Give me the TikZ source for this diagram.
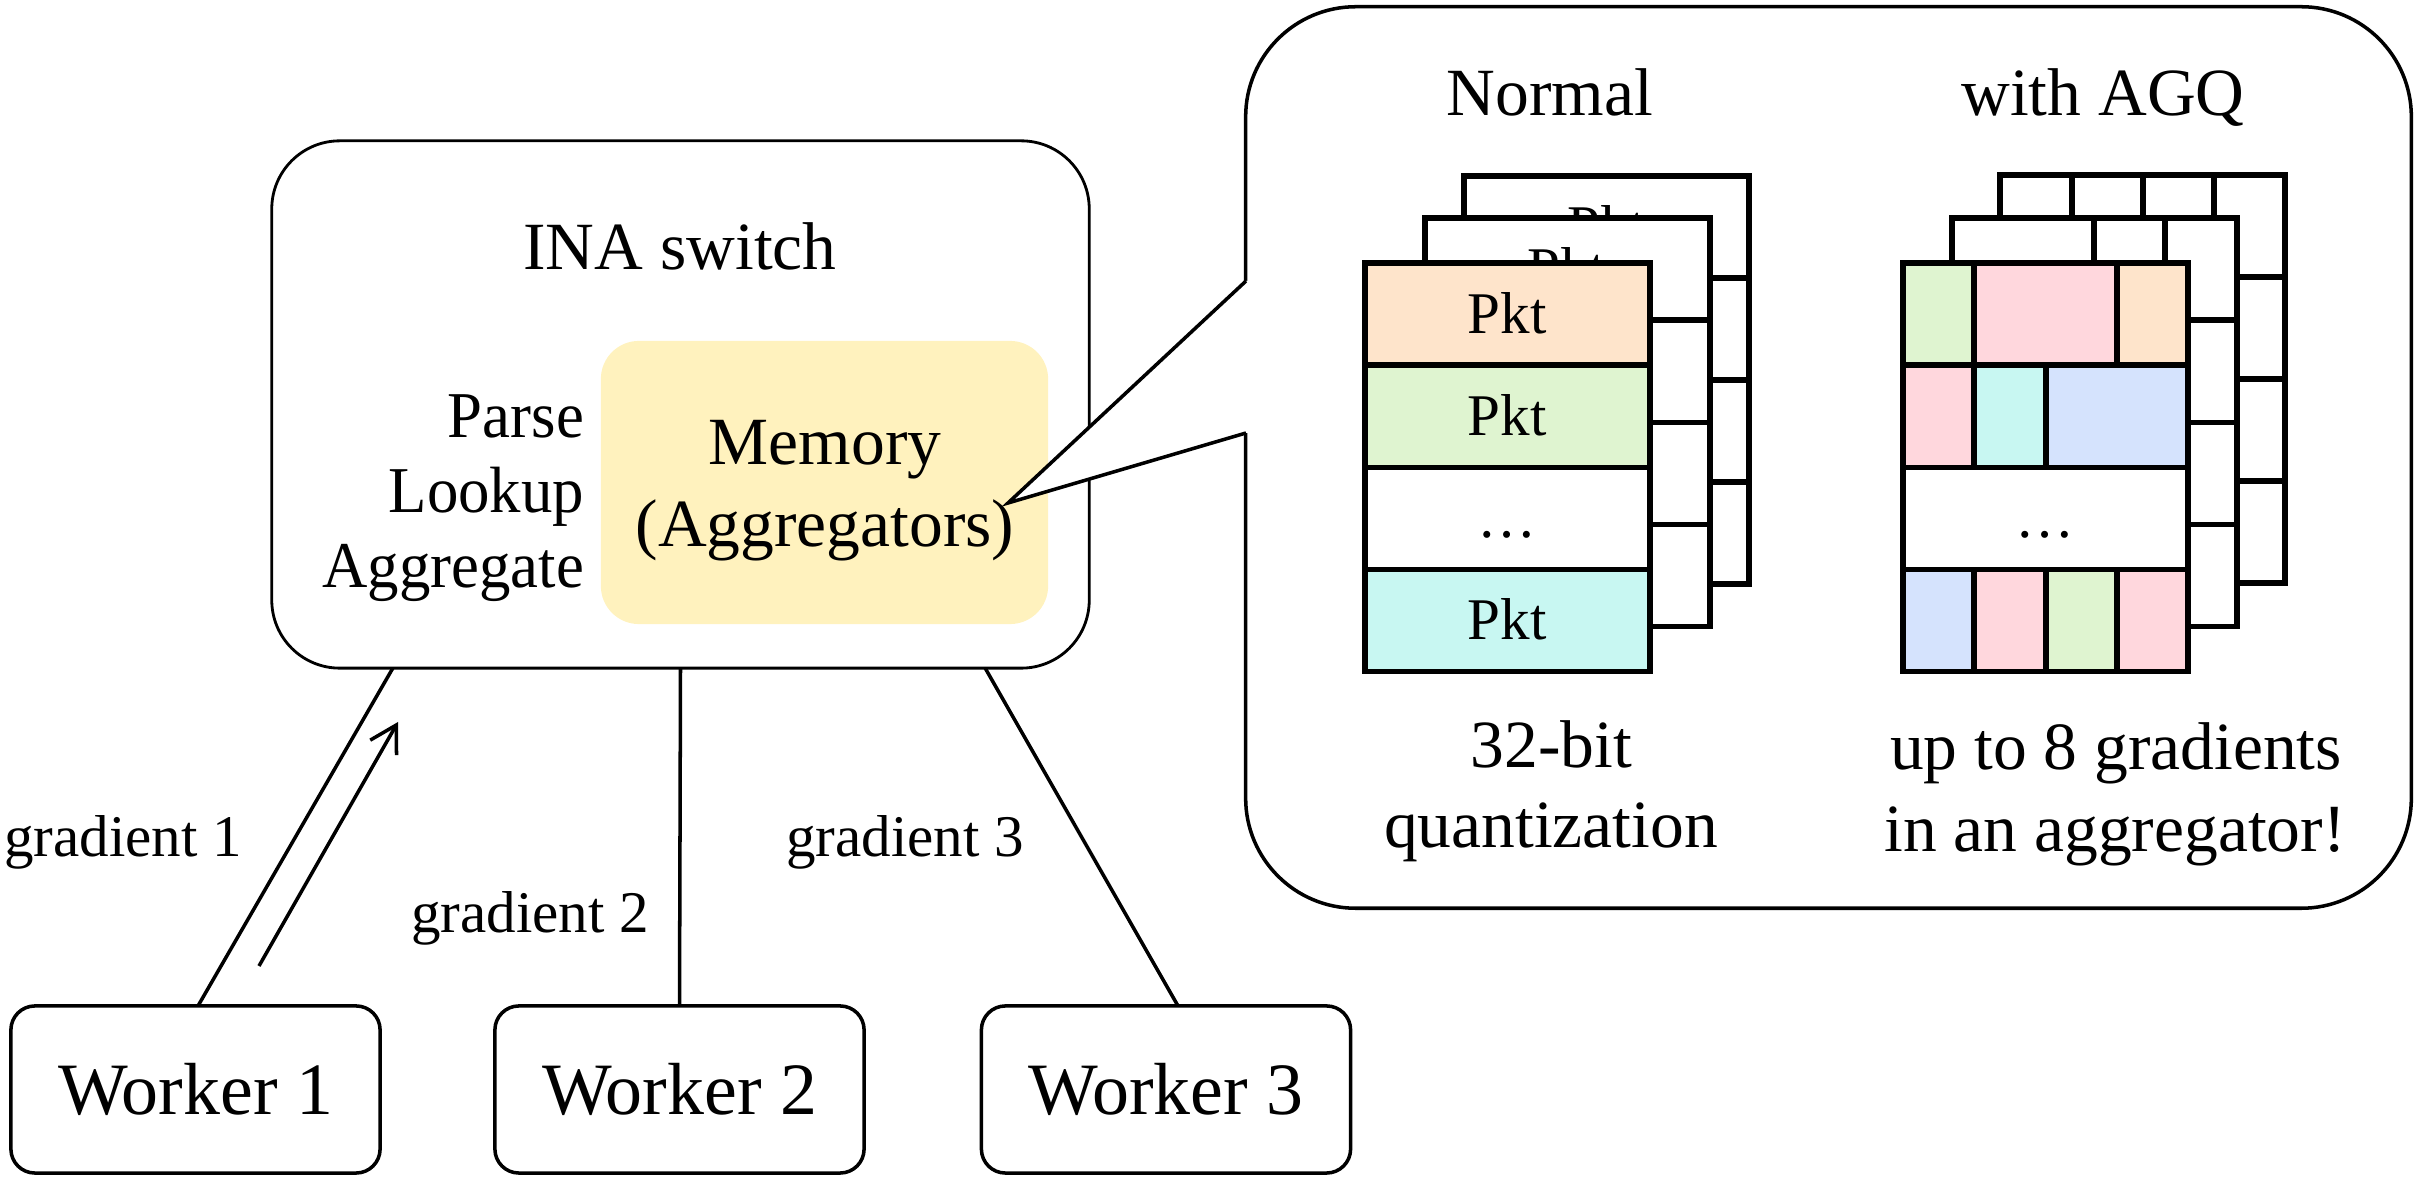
\documentclass[tikz,border=0pt]{standalone}
\usepackage{fontspec}
\setmainfont{Liberation Serif}
\newfontfamily\narrowserif[FakeStretch=0.96]{Liberation Serif}
\usetikzlibrary{arrows.meta}
\definecolor{cpeach}{HTML}{FEE4CB}
\definecolor{cgreen}{HTML}{DFF4D0}
\definecolor{cpink}{HTML}{FFD7DD}
\definecolor{ccyan}{HTML}{C8F7F2}
\definecolor{cblue}{HTML}{D5E3FD}
\definecolor{cyellow}{HTML}{FFF2BE}
\begin{document}
\begin{tikzpicture}[x=0.01cm,y=-0.01cm,
  txt/.style={inner sep=0pt, outer sep=0pt, anchor=base, font=\fontsize{19.2pt}{23pt}\selectfont},
  steptxt/.style={inner sep=0pt, outer sep=0pt, anchor=base east, font=\narrowserif\fontsize{18.6pt}{22pt}\selectfont},
  small/.style={txt, font=\fontsize{16.8pt}{20pt}\selectfont},
  box/.style={draw, line width=0.8pt, inner sep=0pt, outer sep=0pt},
  wbox/.style={draw, line width=1pt, inner sep=0pt, outer sep=0pt, rounded corners=0.24cm,
     minimum width=3.69cm, minimum height=1.67cm, font=\fontsize{21pt}{25pt}\selectfont},
  conn/.style={line width=1pt},
  card/.style={line width=1.7pt},
]
\useasboundingbox (0,0) rectangle (2417,1180);

% ---------------- INA switch ----------------
\node[box, rounded corners=0.68cm, minimum width=8.17cm, minimum height=5.27cm] (sw) at (680.5,404.5) {};
\node[fill=cyellow, inner sep=0pt, outer sep=0pt, rounded corners=0.38cm, minimum width=4.47cm, minimum height=2.83cm] (mem) at (824.5,482.5) {};

% ---------------- callout ----------------
\node[draw, fill=white, line width=1pt, inner sep=0pt, outer sep=0pt, rounded corners=1.1cm,
      minimum width=11.65cm, minimum height=9.01cm] (callout) at (1828.5,457.5) {};
\coordinate (pa) at (1246,281);
\coordinate (pb) at (1246,433);
\coordinate (tip) at (1008,503);
\fill[white] (pa) -- (tip) -- (pb) -- (1248.5,433) -- (1248.5,281) -- cycle;
\draw[line width=1pt, line join=miter] (pa) -- (tip) -- (pb);

% texts in switch
\node[txt] (ina) at (680,270) {INA switch};
\node[steptxt] (parse) at (584,438) {Parse};
\node[steptxt] (lookup) at (584,513) {Lookup};
\node[steptxt] (aggr) at (584,588) {Aggregate};
\node[txt] (memt) at (825,464.6) {Memory};
\node[txt] (aggs) at (825,547) {(Aggregators)};

% ---------------- workers ----------------
\node[wbox] (w1) at (195.5,1089.5) {Worker 1};
\node[wbox] (w2) at (679.5,1089.5) {Worker 2};
\node[wbox] (w3) at (1166,1089.5) {Worker 3};

\coordinate (s1) at ([xshift=-2.875cm]sw.south);
\coordinate (s3) at ([xshift=3.045cm]sw.south);
\draw[conn] ([xshift=0.025cm]w1.north) -- (s1);
\draw[conn] (w2.north) -- (sw.south);
\draw[conn] (s3) -- ([xshift=0.12cm]w3.north);

\coordinate (atail) at (259,966);
\coordinate (ahead) at (398,722);
\draw[conn, -{Straight Barb[length=7.4pt,width=8.6pt]}] (atail) -- (ahead);

\node[small] (g1) at (123,857) {gradient 1};
\node[small] (g2) at (530,933) {gradient 2};
\node[small] (g3) at (905,857) {gradient 3};

% ---------------- callout texts ----------------
\node[txt] (normal) at (1550,115.6) {Normal};
\node[txt] (agq) at (2103,115.6) {with AGQ};
\node[txt] (q1) at (1551.5,767.5) {32-bit};
\node[txt] (q2) at (1551,848) {quantization};
\node[txt] (u1) at (2116,770) {up to 8 gradients};
\node[txt] (u2) at (2115,852) {in an aggregator!};

% ---------------- normal stack ----------------
\begin{scope}[shift={(1464.3,176)}]
  \fill[white] (0,0) rectangle (285,408);
  \node[small] (nb1) at (142.5,70.5) {Pkt};
  \draw[card] (0,0) rectangle (285,408);
  \draw[card] (0,102) -- (285,102) (0,204) -- (285,204) (0,306) -- (285,306);
\end{scope}
\begin{scope}[shift={(1424.5,218.5)}]
  \fill[white] (0,0) rectangle (285,408);
  \node[small] (nm1) at (142.5,70.5) {Pkt};
  \draw[card] (0,0) rectangle (285,408);
  \draw[card] (0,102) -- (285,102) (0,204) -- (285,204) (0,306) -- (285,306);
\end{scope}
\begin{scope}[shift={(1364.7,263.5)}]
  \fill[cpeach] (0,0) rectangle (285,102);
  \fill[cgreen] (0,102) rectangle (285,204);
  \fill[white] (0,204) rectangle (285,306);
  \fill[ccyan] (0,306) rectangle (285,408);
  \node[small] (nf1) at (142.5,70.5) {Pkt};
  \node[small] (nf2) at (142.5,172.5) {Pkt};
  \node[small] (nf3) at (142.5,274.5) {…};
  \node[small] (nf4) at (142.5,376.5) {Pkt};
  \draw[card] (0,0) rectangle (285,408);
  \draw[card] (0,102) -- (285,102) (0,204) -- (285,204) (0,306) -- (285,306);
\end{scope}

% ---------------- AGQ stack ----------------
\begin{scope}[shift={(2000.4,175)}]
  \fill[white] (0,0) rectangle (285,408);
  \draw[card] (0,0) rectangle (285,408);
  \draw[card] (0,102) -- (285,102) (0,204) -- (285,204) (0,306) -- (285,306);
  \draw[card] (71.25,0) -- (71.25,102) (142.5,0) -- (142.5,102) (213.75,0) -- (213.75,102);
\end{scope}
\begin{scope}[shift={(1951.6,218.5)}]
  \fill[white] (0,0) rectangle (285,408);
  \draw[card] (0,0) rectangle (285,408);
  \draw[card] (0,102) -- (285,102) (0,204) -- (285,204) (0,306) -- (285,306);
  \draw[card] (142.5,0) -- (142.5,102) (213.75,0) -- (213.75,102);
\end{scope}
\begin{scope}[shift={(1903,263.5)}]
  \fill[cgreen] (0,0) rectangle (71.25,102);
  \fill[cpink] (71.25,0) rectangle (213.75,102);
  \fill[cpeach] (213.75,0) rectangle (285,102);
  \fill[cpink] (0,102) rectangle (71.25,204);
  \fill[ccyan] (71.25,102) rectangle (142.5,204);
  \fill[cblue] (142.5,102) rectangle (285,204);
  \fill[white] (0,204) rectangle (285,306);
  \fill[cblue] (0,306) rectangle (71.25,408);
  \fill[cpink] (71.25,306) rectangle (142.5,408);
  \fill[cgreen] (142.5,306) rectangle (213.75,408);
  \fill[cpink] (213.75,306) rectangle (285,408);
  \node[small] (af3) at (142.5,274.5) {…};
  \draw[card] (0,0) rectangle (285,408);
  \draw[card] (0,102) -- (285,102) (0,204) -- (285,204) (0,306) -- (285,306);
  \draw[card] (71.25,0) -- (71.25,102) (213.75,0) -- (213.75,102);
  \draw[card] (71.25,102) -- (71.25,204) (142.5,102) -- (142.5,204);
  \draw[card] (71.25,306) -- (71.25,408) (142.5,306) -- (142.5,408) (213.75,306) -- (213.75,408);
\end{scope}
\end{tikzpicture}
\end{document}
